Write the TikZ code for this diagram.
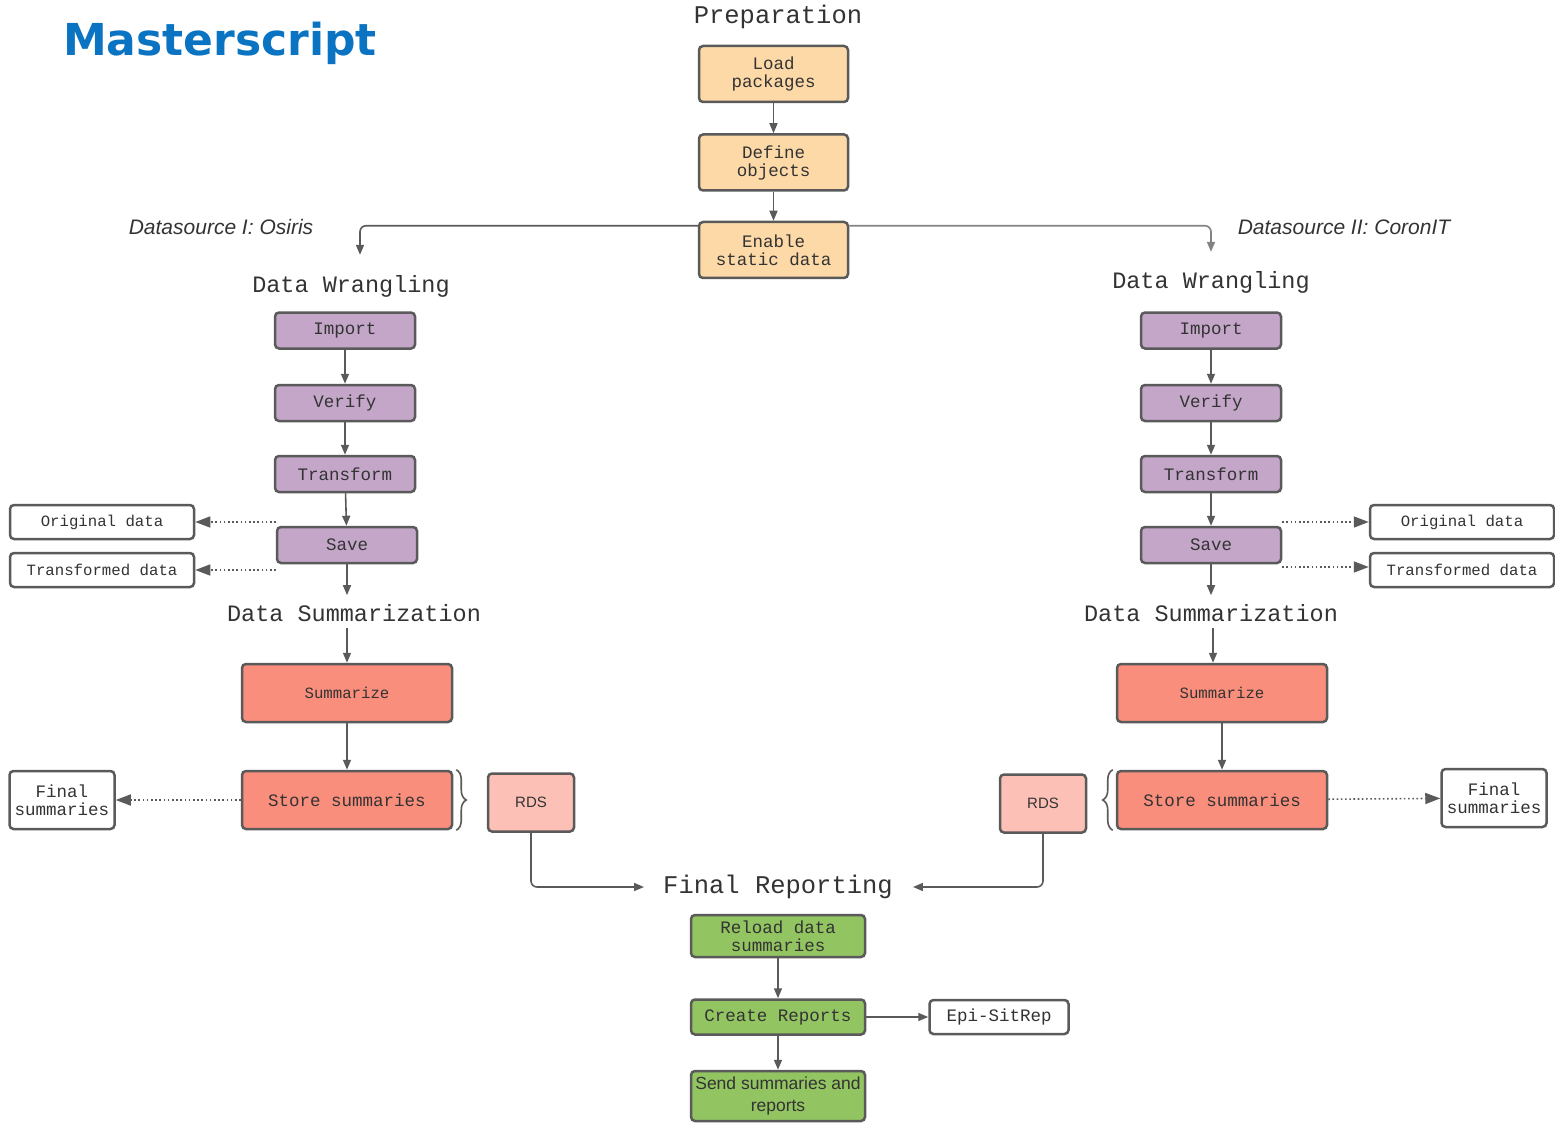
\documentclass[tikz,border=0pt]{standalone}
\usepackage{fontspec}
\setmainfont{Liberation Sans}
\newfontfamily\monofont{Liberation Mono}
\newfontfamily\titlefamily{DejaVu Sans}
\usetikzlibrary{arrows.meta,decorations.pathreplacing}

\definecolor{prepfill}{HTML}{FDD9A7}
\definecolor{wranglefill}{HTML}{C4A6C9}
\definecolor{sumfill}{HTML}{F98E7C}
\definecolor{rdsfill}{HTML}{FCC0B6}
\definecolor{reportfill}{HTML}{93C462}
\definecolor{linegray}{HTML}{5A5A5A}
\definecolor{textgray}{HTML}{333333}
\definecolor{titleblue}{HTML}{0A74C2}

\newcommand\titletext{\titlefamily\bfseries\fontsize{44}{50}\selectfont}
\newcommand\bigheadtext{\monofont\fontsize{25.5}{28}\selectfont}
\newcommand\headtext{\monofont\fontsize{23.5}{26}\selectfont}
\newcommand\boxtext{\monofont\fontsize{17.5}{18}\selectfont}
\newcommand\smallboxtext{\monofont\fontsize{15.7}{18}\selectfont}
\newcommand\sourcetext{\itshape\fontsize{21}{24}\selectfont}
\newcommand\sendtext{\fontsize{17.5}{22}\selectfont}

\tikzset{
    box/.style={draw=linegray, line width=2.5pt, rounded corners=4pt, text=textgray, align=center, inner sep=2pt, font=\boxtext},
    prepbox/.style={box, fill=prepfill, minimum width=149pt, minimum height=56pt},
    wranglebox/.style={box, fill=wranglefill, minimum width=140pt, minimum height=36pt},
    sumbox/.style={box, fill=sumfill, minimum width=210pt, minimum height=58pt},
    rdsbox/.style={box, fill=rdsfill, minimum width=86pt, minimum height=58pt, font=\fontsize{15}{18}\selectfont},
    reportbox/.style={box, fill=reportfill, minimum width=174pt, minimum height=35pt},
    outbox/.style={box, fill=white, minimum width=184pt, minimum height=34pt, font=\smallboxtext},
    finalbox/.style={box, fill=white, minimum width=105pt, minimum height=58pt},
    heading/.style={inner sep=0pt, text=textgray, font=\headtext},
    source/.style={inner sep=0pt, text=textgray, font=\sourcetext},
    flow/.style={draw=linegray, line width=1.6pt, -{Triangle[length=10pt,width=8pt]}},
    dotflow/.style={flow, dash pattern=on 1.6pt off 2.6pt, -{Triangle[length=15pt,width=11pt]}},
    brace/.style={draw=linegray, line width=1.6pt, decorate, decoration={brace, amplitude=10pt}},
}

\begin{document}
\begin{tikzpicture}[x=1pt, y=-1pt]
    \useasboundingbox (0,0) rectangle (1555,1123);

    \node(title) at (220,43) [inner sep=0pt, text=titleblue, font=\titletext] {Masterscript};

    % preparation
    \node(prephead) at (778,17) [heading, font=\bigheadtext] {Preparation};
    \node(load) at (773.5,74) [prepbox] {Load\\packages};
    \node(define) at (773.5,162.5) [prepbox] {Define\\objects};
    \node(enable) at (773.5,250) [prepbox] {Enable\\static data};

    \node(srcL) at (221,227) [source] {Datasource I: Osiris};
    \node(srcR) at (1344,227) [source] {Datasource II: CoronIT};

    % datasource I
    \node(wrangheadL) at (351,286) [heading] {Data Wrangling};
    \node(importL) at (345,330.5) [wranglebox] {Import};
    \node(verifyL) at (345,403) [wranglebox] {Verify};
    \node(transformL) at (345,474) [wranglebox] {Transform};
    \node(saveL) at (347,545) [wranglebox] {Save};
    \node(origL) at (102,522) [outbox] {Original data};
    \node(transL) at (102,570) [outbox] {Transformed data};

    \node(sumheadL) at (354,613) [heading] {Data Summarization};
    \node(summarizeL) at (347,693) [sumbox, font=\smallboxtext] {Summarize};
    \node(storeL) at (347,800) [sumbox] {Store summaries};
    \node(rdsL) at (531,802.5) [rdsbox] {RDS};
    \node(finalL) at (62,800) [finalbox] {Final\\summaries};

    % datasource II
    \node(wrangheadR) at (1211,282) [heading] {Data Wrangling};
    \node(importR) at (1211,330.5) [wranglebox] {Import};
    \node(verifyR) at (1211,403) [wranglebox] {Verify};
    \node(transformR) at (1211,474) [wranglebox] {Transform};
    \node(saveR) at (1211,545) [wranglebox] {Save};
    \node(origR) at (1462,522) [outbox] {Original data};
    \node(transR) at (1462,570) [outbox] {Transformed data};

    \node(sumheadR) at (1211,613) [heading] {Data Summarization};
    \node(summarizeR) at (1222,693) [sumbox, font=\smallboxtext] {Summarize};
    \node(storeR) at (1222,800) [sumbox] {Store summaries};
    \node(rdsR) at (1043,803.5) [rdsbox] {RDS};
    \node(finalR) at (1494,798) [finalbox] {Final\\summaries};

    % reporting
    \node(finalhead) at (778,887) [heading, font=\bigheadtext] {Final Reporting};
    \node(reload) at (778,936) [reportbox, minimum height=42pt] {Reload data\\summaries};
    \node(create) at (778,1017) [reportbox] {Create Reports};
    \node(epi) at (999,1017) [outbox, font=\boxtext, minimum width=139pt] {Epi-SitRep};
    \node(send) at (778,1096) [reportbox, minimum height=50pt, font=\sendtext] {Send summaries and\\reports};

    \draw[flow] (load) -- (define);
    \draw[flow] (define) -- (enable);
    \draw[flow, rounded corners=6pt] ([yshift=-5pt]enable.north west) -| ([xshift=9pt, yshift=20pt]wrangheadL.north);
    \draw[flow, rounded corners=6pt, draw=linegray!75] ([yshift=-5pt]enable.north east) -| ([yshift=19pt]wrangheadR.north);

    \draw[flow] (importL) -- (verifyL);
    \draw[flow] (verifyL) -- (transformL);
    \draw[flow] (transformL) -- (saveL);
    \draw[dotflow] (saveL.north west |- origL.east) -- (origL);
    \draw[dotflow] (saveL.south west |- transL.east) -- (transL);
    \draw[flow, shorten >=9pt] (saveL) -- (saveL |- sumheadL.north);
    \draw[flow, shorten <=6pt] (sumheadL.south -| summarizeL) -- (summarizeL);
    \draw[flow] (summarizeL) -- (storeL);
    \draw[dotflow] (storeL) -- (finalL);
    \draw[brace] ([xshift=3pt]storeL.north east) -- ([xshift=3pt]storeL.south east);

    \draw[flow] (importR) -- (verifyR);
    \draw[flow] (verifyR) -- (transformR);
    \draw[flow] (transformR) -- (saveR);
    \draw[dotflow] (saveR.north east |- origR.east) -- (origR);
    \draw[dotflow] ([yshift=3pt]saveR.south east |- transR.west) -- ([yshift=3pt]transR.west);
    \draw[flow, shorten >=9pt] (saveR) -- (saveR |- sumheadR.north);
    \draw[flow, shorten <=6pt] ([xshift=2pt]sumheadR.south) -- ([xshift=2pt]sumheadR.south |- summarizeR.north);
    \draw[flow] (summarizeR) -- (storeR);
    \draw[dotflow] (storeR) -- (finalR);
    \draw[brace] ([xshift=-3pt]storeR.south west) -- ([xshift=-3pt]storeR.north west);

    \draw[flow, rounded corners=6pt, shorten >=19pt] (rdsL) |- (finalhead.west);
    \draw[flow, rounded corners=6pt, shorten >=20pt] (rdsR) |- (finalhead.east);
    \draw[flow] (reload) -- (create);
    \draw[flow] (create) -- (send);
    \draw[flow] (create) -- (epi);
\end{tikzpicture}
\end{document}
